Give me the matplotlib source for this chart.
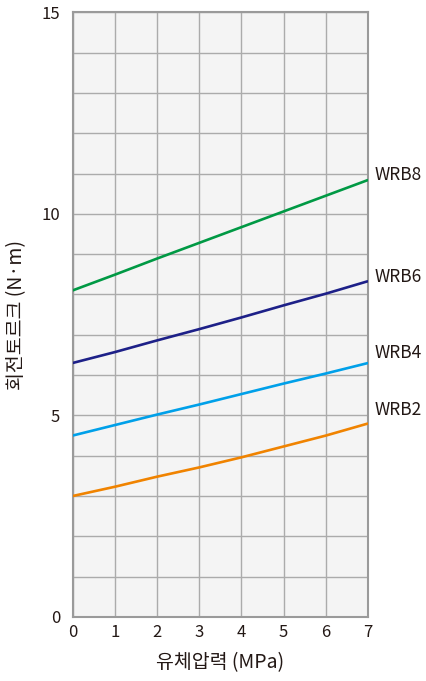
import matplotlib
matplotlib.use("Agg")
import matplotlib.pyplot as plt

plt.rcParams['font.family'] = ['Noto Sans CJK KR', 'DejaVu Sans']

# 유체압력 (MPa)
pressure = [0, 1, 2, 3, 4, 5, 6, 7]

# 회전토르크 (N·m)
wrb8 = [8.1, 8.49, 8.89, 9.28, 9.67, 10.06, 10.45, 10.84]
wrb6 = [6.3, 6.57, 6.86, 7.14, 7.43, 7.73, 8.02, 8.33]
wrb4 = [4.5, 4.76, 5.02, 5.27, 5.53, 5.79, 6.04, 6.3]
wrb2 = [3.0, 3.23, 3.48, 3.71, 3.96, 4.23, 4.5, 4.8]

series = [
    ("WRB8", wrb8, "#009944", 10.97),
    ("WRB6", wrb6, "#1d2088", 8.44),
    ("WRB4", wrb4, "#00a0e9", 6.55),
    ("WRB2", wrb2, "#f08300", 5.14),
]

fig = plt.figure(figsize=(4.27, 6.81), dpi=100)
ax = fig.add_axes([0.170, 0.094, 0.692, 0.888])
ax.set_facecolor("#f4f4f4")

for name, vals, color, label_y in series:
    ax.plot(pressure, vals, color=color, linewidth=1.9, solid_capstyle="butt", zorder=3)
    ax.text(7.15, label_y, name, fontsize=12.5, color="#231815", va="center", ha="left")

ax.set_xlim(0, 7)
ax.set_ylim(0, 15)
ax.set_xticks(range(0, 8))
ax.set_yticks([0, 5, 10, 15])
ax.set_yticks(range(0, 16), minor=True)
ax.grid(True, which="both", color="#ababab", linewidth=1.0, zorder=1)
ax.set_axisbelow(True)
ax.tick_params(which="both", length=0, labelsize=12, labelcolor="#231815")
ax.tick_params(axis="x", pad=5)
ax.tick_params(axis="y", pad=9)

for s in ax.spines.values():
    s.set_color("#9a9a9a")
    s.set_linewidth(1.5)

ax.set_xlabel("유체압력 (MPa)", fontsize=14, color="#231815", labelpad=8)
ax.set_ylabel("회전토르크 (N·m)", fontsize=14, color="#231815", labelpad=10)

fig.savefig("out.png", dpi=100)
